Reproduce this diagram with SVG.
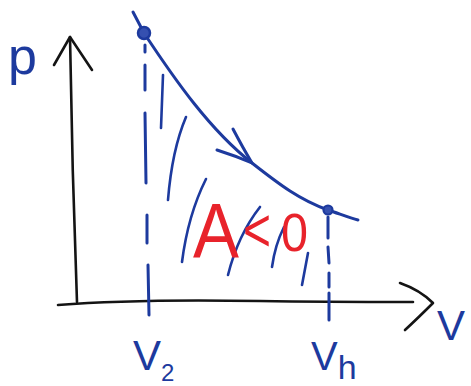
<svg xmlns="http://www.w3.org/2000/svg" width="471" height="386" viewBox="0 0 471 386">
<style>
.ink{fill:none;stroke-linecap:round;stroke-linejoin:round}
.blk{stroke:#141414;stroke-width:2.6}
.blu{stroke:#1d3a9e;stroke-width:3}
.hatch{stroke:#1d3a9e;stroke-width:2.6}
.lbl{font-family:"Liberation Sans",Arial,sans-serif;fill:#1d3a9e}
.red{font-family:"Liberation Sans",Arial,sans-serif;fill:#e8232b}
</style>
<rect width="471" height="386" fill="#ffffff"/>
<g id="axis-p">
<path class="ink blk" d="M70,37 Q72,170 77,302"/>
<path class="ink blk" d="M54,65 L70,37 L92,70"/>
<text class="lbl" x="8" y="74" font-size="52">p</text>
</g>
<g id="axis-V">
<path class="ink blk" d="M58,305 C120,300 200,300 260,301 S380,302 413,302"/>
<path class="ink blk" d="M400,283 Q420,290 433,303 Q418,318 405,330"/>
<text class="lbl" x="437" y="340" font-size="42">V</text>
</g>
<g id="hatching">
<path class="ink hatch" d="M163,75 L161,128"/>
<path class="ink hatch" d="M186,117 Q172,150 168,200"/>
<path class="ink hatch" d="M206,179 Q188,215 182,262"/>
<path class="ink hatch" d="M260,207 Q238,235 228,275"/>
<path class="ink hatch" d="M284,227 Q275,245 272,267"/>
<path class="ink hatch" d="M308,253 L302,285"/>
</g>
<g id="work-label">
<text class="red"><tspan x="193" y="258" font-size="78" textLength="46" lengthAdjust="spacingAndGlyphs">A</tspan><tspan x="243" y="251" font-size="62" textLength="28" lengthAdjust="spacingAndGlyphs">&lt;</tspan><tspan x="281" y="251" font-size="53" textLength="27" lengthAdjust="spacingAndGlyphs">0</tspan></text>
</g>
<g id="connectors">
<g id="dashed-V2">
<path class="ink blu" stroke-width="2.6" d="M145,45 L145,52 M145,65 L145,90 M145,113 L146,183 M147,215 L147,243 M148,265 L149,315"/>
</g>
<g id="dashed-Vh">
<path class="ink blu" stroke-width="2.6" d="M328,217 L328,238 M328,247 L329,263 M329,273 L329,287 M329,293 L329,320"/>
</g>
<g id="process-curve">
<path class="ink blu" d="M133,12 L144,33 C175,80 210,130 252,163 C280,185 300,200 328,210 C340,214 350,218 358,220"/>
<path class="ink blu" d="M233,129 Q243,148 252,163 M217,150 Q236,156 252,163"/>
</g>
</g>
<g id="state-1">
<circle cx="144" cy="33" r="6" fill="#3550b0" stroke="#1d3a9e" stroke-width="2.5"/>
</g>
<g id="state-2">
<circle cx="328" cy="210" r="4.5" fill="#3550b0" stroke="#1d3a9e" stroke-width="2.2"/>
</g>
<g id="label-V2">
<text class="lbl" x="133" y="370" font-size="42">V<tspan font-size="24" dy="11">2</tspan></text>
</g>
<g id="label-Vh">
<text class="lbl" x="311" y="370" font-size="40">V<tspan font-size="34" dy="9">h</tspan></text>
</g>
</svg>
